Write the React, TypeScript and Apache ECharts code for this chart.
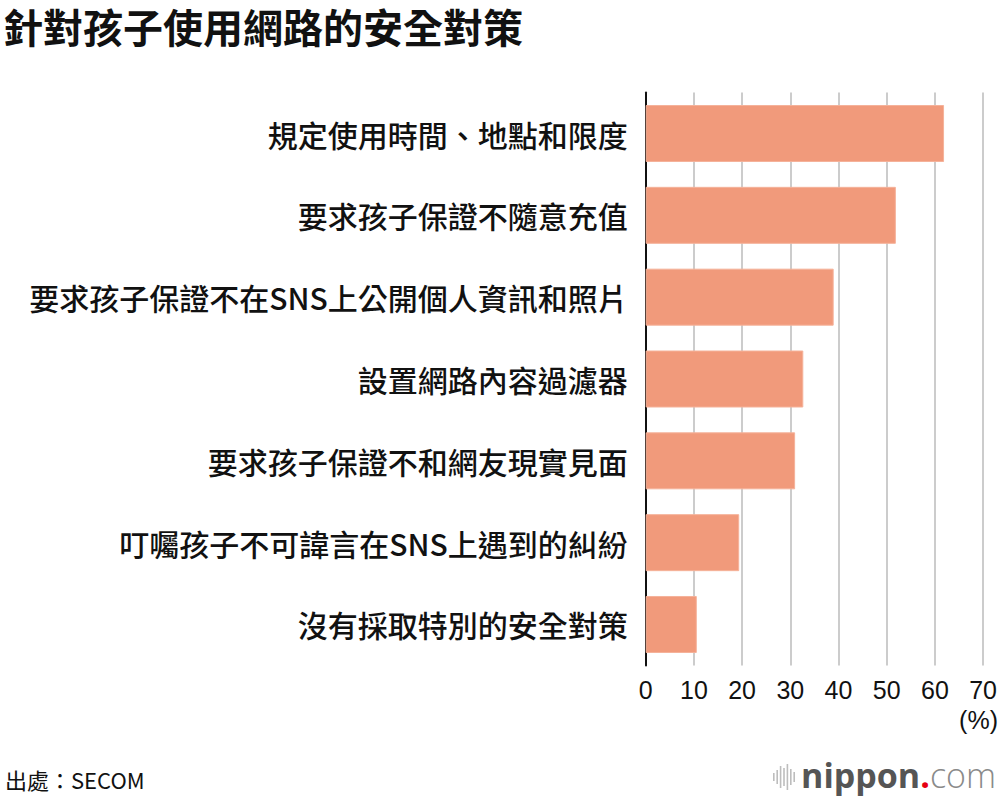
import React, { useEffect, useRef } from "react";
import * as echarts from "echarts";

const categories = [
  "規定使用時間、地點和限度",
  "要求孩子保證不隨意充值",
  "要求孩子保證不在SNS上公開個人資訊和照片",
  "設置網路內容過濾器",
  "要求孩子保證不和網友現實見面",
  "叮囑孩子不可諱言在SNS上遇到的糾紛",
  "沒有採取特別的安全對策",
];
const values = [61.9, 51.9, 39.0, 32.7, 31.0, 19.4, 10.6];
const xTicks = [0, 10, 20, 30, 40, 50, 60, 70];
const titleText = "針對孩子使用網路的安全對策";
const sourceText = "出處：SECOM";
const unitText = "(%)";
const waveHeights = [8, 14, 22, 18, 26, 16, 10];

const CJK = "'Noto Sans CJK TC', 'Noto Sans CJK SC', sans-serif";
const LAT = "'Liberation Sans', Arial, sans-serif";

export default function App() {
  const ref = useRef<HTMLDivElement>(null);
  useEffect(() => {
    document.body.style.margin = "0";
    const chart = echarts.init(ref.current!, null, { renderer: "svg" });
    const waves = waveHeights.map((h, i) => ({
      type: "rect",
      shape: { x: 773 + i * 3.4, y: 777 - h / 2, width: 1.6, height: h },
      style: { fill: "#bdbdbd" },
    }));
    chart.setOption({
      animation: false,
      backgroundColor: "#ffffff",
      grid: { left: 645.7, right: 15.7, top: 92.6, bottom: 130.6, containLabel: false },
      xAxis: {
        type: "value",
        min: 0,
        max: 70,
        interval: 10,
        axisLine: { show: false },
        axisTick: { show: false },
        splitLine: { show: true, lineStyle: { color: "#cccccc", width: 2 } },
        axisLabel: {
          color: "#111",
          fontSize: 25,
          fontFamily: LAT,
          margin: 12,
          formatter: (v: number) => (xTicks.includes(v) ? String(v) : ""),
        },
      },
      yAxis: {
        type: "category",
        data: categories,
        inverse: true,
        axisLine: { show: true, lineStyle: { color: "#111", width: 2 } },
        axisTick: { show: false },
        axisLabel: {
          color: "#111",
          fontSize: 30,
          fontWeight: 500,
          fontFamily: CJK,
          margin: 18,
        },
      },
      series: [
        {
          type: "bar",
          data: values,
          barWidth: 57,
          itemStyle: { color: "#F19A7B", borderColor: "#F5B29A", borderWidth: 1 },
        },
      ],
      graphic: [
        {
          type: "text",
          x: 3,
          y: 26,
          style: {
            text: titleText,
            font: `bold 40px ${CJK}`,
            fill: "#111",
            textAlign: "left",
            textVerticalAlign: "middle",
          },
        },
        {
          type: "text",
          x: 998,
          y: 720,
          style: {
            text: unitText,
            font: `25px ${LAT}`,
            fill: "#111",
            textAlign: "right",
            textVerticalAlign: "middle",
          },
        },
        {
          type: "text",
          x: 5,
          y: 779,
          style: {
            text: sourceText,
            font: `22px ${CJK}`,
            fill: "#111",
            textAlign: "left",
            textVerticalAlign: "middle",
          },
        },
        ...waves,
        {
          type: "text",
          x: 996,
          y: 775,
          style: {
            text: "{a|nippon}{b|.}{c|com}",
            textAlign: "right",
            textVerticalAlign: "middle",
            rich: {
              a: { fontSize: 34, fontWeight: "bold", fontFamily: "'Open Sans', sans-serif", fill: "#555555" },
              b: { fontSize: 34, fontWeight: "bold", fontFamily: "'Open Sans', sans-serif", fill: "#e60012" },
              c: { fontSize: 34, fontWeight: 300, fontFamily: "'Open Sans', sans-serif", fill: "#8a8a8a" },
            },
          },
        },
      ],
    });
    return () => chart.dispose();
  }, []);
  return <div ref={ref} style={{ width: 1000, height: 796 }} />;
}
